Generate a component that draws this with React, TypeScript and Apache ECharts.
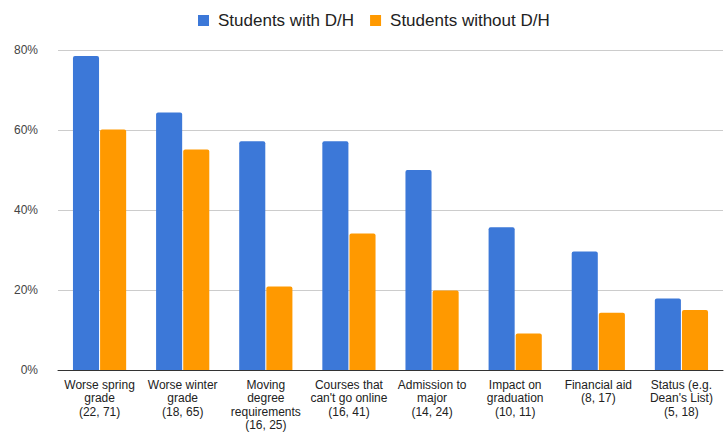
import React, { useEffect, useRef } from "react";
import * as echarts from "echarts";

const categories = [
  "Worse spring\ngrade\n(22, 71)",
  "Worse winter\ngrade\n(18, 65)",
  "Moving\ndegree\nrequirements\n(16, 25)",
  "Courses that\ncan't go online\n(16, 41)",
  "Admission to\nmajor\n(14, 24)",
  "Impact on\ngraduation\n(10, 11)",
  "Financial aid\n(8, 17)",
  "Status (e.g.\nDean's List)\n(5, 18)",
];
const seriesNames = ["Students with D/H", "Students without D/H"];
const withDH = [78.5, 64.4, 57.2, 57.2, 50.0, 35.7, 29.6, 17.9];
const withoutDH = [60.1, 55.1, 20.9, 34.1, 19.9, 9.1, 14.3, 15.0];
const yTicks = { min: 0, max: 80, interval: 20 };

export default function App() {
  const ref = useRef<HTMLDivElement>(null);
  useEffect(() => {
    if (!ref.current) return;
    const chart = echarts.init(ref.current, undefined, { renderer: "svg" });
    const font = "'Liberation Sans', Arial, sans-serif";
    chart.setOption({
      animation: false,
      textStyle: { fontFamily: font },
      color: ["#3c78d8", "#ff9900"],
      legend: {
        top: 7,
        left: 193,
        itemWidth: 11,
        itemHeight: 11,
        itemGap: 16,
        icon: "rect",
        textStyle: { fontSize: 17, color: "#222", fontFamily: font, padding: [0, 0, 0, 4] },
        data: seriesNames,
      },
      grid: { left: 58, right: 2, top: 50, bottom: 58 },
      xAxis: {
        type: "category",
        data: categories,
        axisTick: { show: false },
        axisLine: { lineStyle: { color: "#333", width: 1 } },
        axisLabel: {
          interval: 0,
          fontSize: 12,
          color: "#222",
          lineHeight: 13.5,
          margin: 8,
          fontFamily: font,
        },
      },
      yAxis: {
        type: "value",
        min: yTicks.min,
        max: yTicks.max,
        interval: yTicks.interval,
        axisLabel: { formatter: "{value}%", fontSize: 12, color: "#444", margin: 20, fontFamily: font },
        splitLine: { lineStyle: { color: "#ccc" } },
        axisLine: { show: false },
        axisTick: { show: false },
      },
      series: [
        {
          name: seriesNames[0],
          type: "bar",
          data: withDH,
          barGap: "4%",
          barCategoryGap: "36%",
          itemStyle: { borderRadius: [2, 2, 0, 0] },
        },
        {
          name: seriesNames[1],
          type: "bar",
          data: withoutDH,
          barGap: "4%",
          barCategoryGap: "36%",
          itemStyle: { borderRadius: [2, 2, 0, 0] },
        },
      ],
    });
    return () => chart.dispose();
  }, []);
  return (
    <div
      ref={ref}
      style={{ position: "fixed", left: 0, top: 0, width: 725, height: 432, background: "#fff" }}
    />
  );
}
